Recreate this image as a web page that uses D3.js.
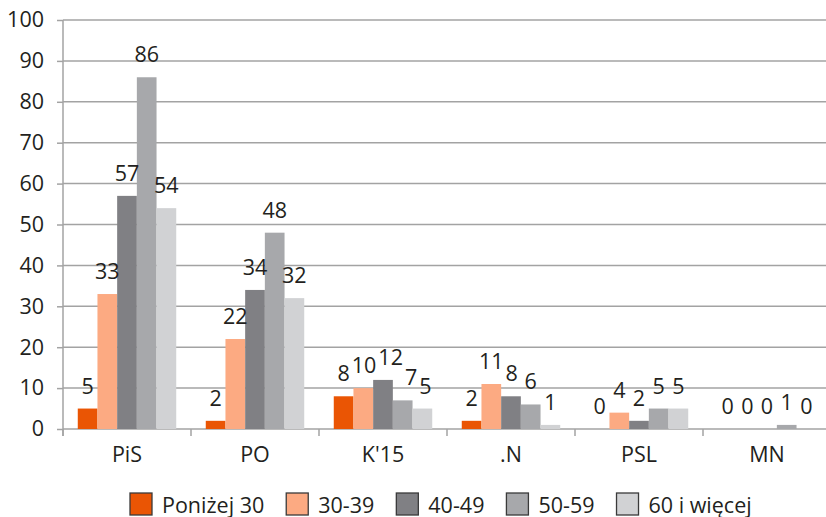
<!DOCTYPE html>
<html>
<head>
<meta charset="utf-8">
<script src="https://cdn.jsdelivr.net/npm/d3@7"></script>
<style>
  body { margin: 0; background: #fff; }
  svg { display: block; font-family: "Open Sans", sans-serif; }
</style>
</head>
<body>
<div id="chart"></div>
<script>
const parties = ['PiS', 'PO', "K'15", '.N', 'PSL', 'MN'];
const ageGroups = ['Poniżej 30', '30-39', '40-49', '50-59', '60 i więcej'];
const colors = ['#ea5504', '#fcaa82', '#808084', '#a7a8ab', '#d1d2d4'];
const values = [
  [5, 33, 57, 86, 54],
  [2, 22, 34, 48, 32],
  [8, 10, 12, 7, 5],
  [2, 11, 8, 6, 1],
  [0, 4, 2, 5, 5],
  [0, 0, 0, 1, 0]
];
const yTicks = [0, 10, 20, 30, 40, 50, 60, 70, 80, 90, 100];

const width = 826, height = 517;
const margin = { top: 20, left: 63, bottom: 88 };
const plotRight = 831;
const fontSize = 21.5;
const textColor = '#231f20';
const lineColor = '#a3a3a3';

const svg = d3.select('#chart').append('svg')
  .attr('width', width).attr('height', height);

const x = d3.scaleBand()
  .domain(parties)
  .range([margin.left, plotRight]);

// excel style: gap width 150% -> 0.75 bar on each side
const inner = d3.scaleBand()
  .domain(d3.range(ageGroups.length))
  .range([0, x.bandwidth()])
  .paddingOuter(0.75)
  .paddingInner(0);

const y = d3.scaleLinear()
  .domain([0, 100])
  .range([height - margin.bottom, margin.top]);

// gridlines
svg.append('g')
  .selectAll('line')
  .data(yTicks.filter(d => d > 0))
  .enter().append('line')
  .attr('x1', margin.left).attr('x2', width)
  .attr('y1', d => y(d)).attr('y2', d => y(d))
  .attr('stroke', lineColor)
  .attr('stroke-width', 1.5);

// y axis
svg.append('g')
  .attr('transform', 'translate(' + margin.left + ',0)')
  .call(d3.axisLeft(y).tickValues(yTicks).tickSize(6).tickPadding(13))
  .call(g => g.selectAll('line, path').attr('stroke', lineColor).attr('stroke-width', 1.5))
  .call(g => g.select('.domain').attr('d', 'M0,' + (y(0) + 7) + 'V' + y(100)))
  .call(g => g.selectAll('text').attr('font-size', fontSize).attr('fill', textColor)
    .attr('font-family', 'Open Sans'));

// x axis
svg.append('g')
  .attr('transform', 'translate(0,' + y(0) + ')')
  .call(d3.axisBottom(x).tickSize(0).tickPadding(18))
  .call(g => g.select('.domain').attr('stroke', lineColor).attr('stroke-width', 1.5)
    .attr('d', 'M' + margin.left + ',0H' + width))
  .call(g => g.selectAll('text').attr('font-size', fontSize).attr('fill', textColor)
    .attr('font-family', 'Open Sans'));

// category separator ticks
svg.append('g')
  .selectAll('line')
  .data(parties)
  .enter().append('line')
  .attr('x1', d => x(d)).attr('x2', d => x(d))
  .attr('y1', y(0)).attr('y2', y(0) + 7)
  .attr('stroke', lineColor)
  .attr('stroke-width', 1.5);

// bars
const groups = svg.append('g')
  .selectAll('g')
  .data(parties)
  .enter().append('g')
  .attr('transform', d => 'translate(' + x(d) + ',0)');

groups.selectAll('rect')
  .data((d, i) => values[i].map((v, j) => ({ v, j })))
  .enter().append('rect')
  .attr('x', d => inner(d.j))
  .attr('width', inner.bandwidth())
  .attr('y', d => y(d.v))
  .attr('height', d => y(0) - y(d.v))
  .attr('fill', d => colors[d.j]);

const labels = groups.selectAll('text')
  .data((d, i) => values[i].map((v, j) => ({ v, j })))
  .enter().append('text')
  .attr('x', d => inner(d.j) + inner.bandwidth() / 2)
  .attr('y', d => y(d.v) - 15)
  .attr('text-anchor', 'middle')
  .attr('font-size', fontSize)
  .attr('fill', textColor)
  .text(d => d.v);

// nudge neighbouring labels apart when they collide
groups.each(function () {
  const ts = d3.select(this).selectAll('text').nodes();
  for (let k = 1; k < ts.length; k++) {
    const a = ts[k - 1].getBBox(), b = ts[k].getBBox();
    const vOverlap = a.y < b.y + b.height && b.y < a.y + a.height;
    const hOverlap = a.x + a.width + 2 - b.x;
    if (vOverlap && hOverlap > 0) {
      ts[k].setAttribute('x', +ts[k].getAttribute('x') + hOverlap);
    }
  }
});

// legend
const legend = svg.append('g')
  .attr('transform', 'translate(130,504)');
let lx = 0;
ageGroups.forEach((name, i) => {
  const item = legend.append('g').attr('transform', 'translate(' + lx + ',0)');
  item.append('rect')
    .attr('x', 0).attr('y', -11)
    .attr('width', 22).attr('height', 22)
    .attr('fill', colors[i])
    .attr('stroke', '#3a3a3a')
    .attr('stroke-width', 1.3);
  const t = item.append('text')
    .attr('x', 32).attr('y', 8.5)
    .attr('font-size', fontSize)
    .attr('fill', textColor)
    .text(name);
  lx += 32 + t.node().getComputedTextLength() + 22;
});
</script>
</body>
</html>
